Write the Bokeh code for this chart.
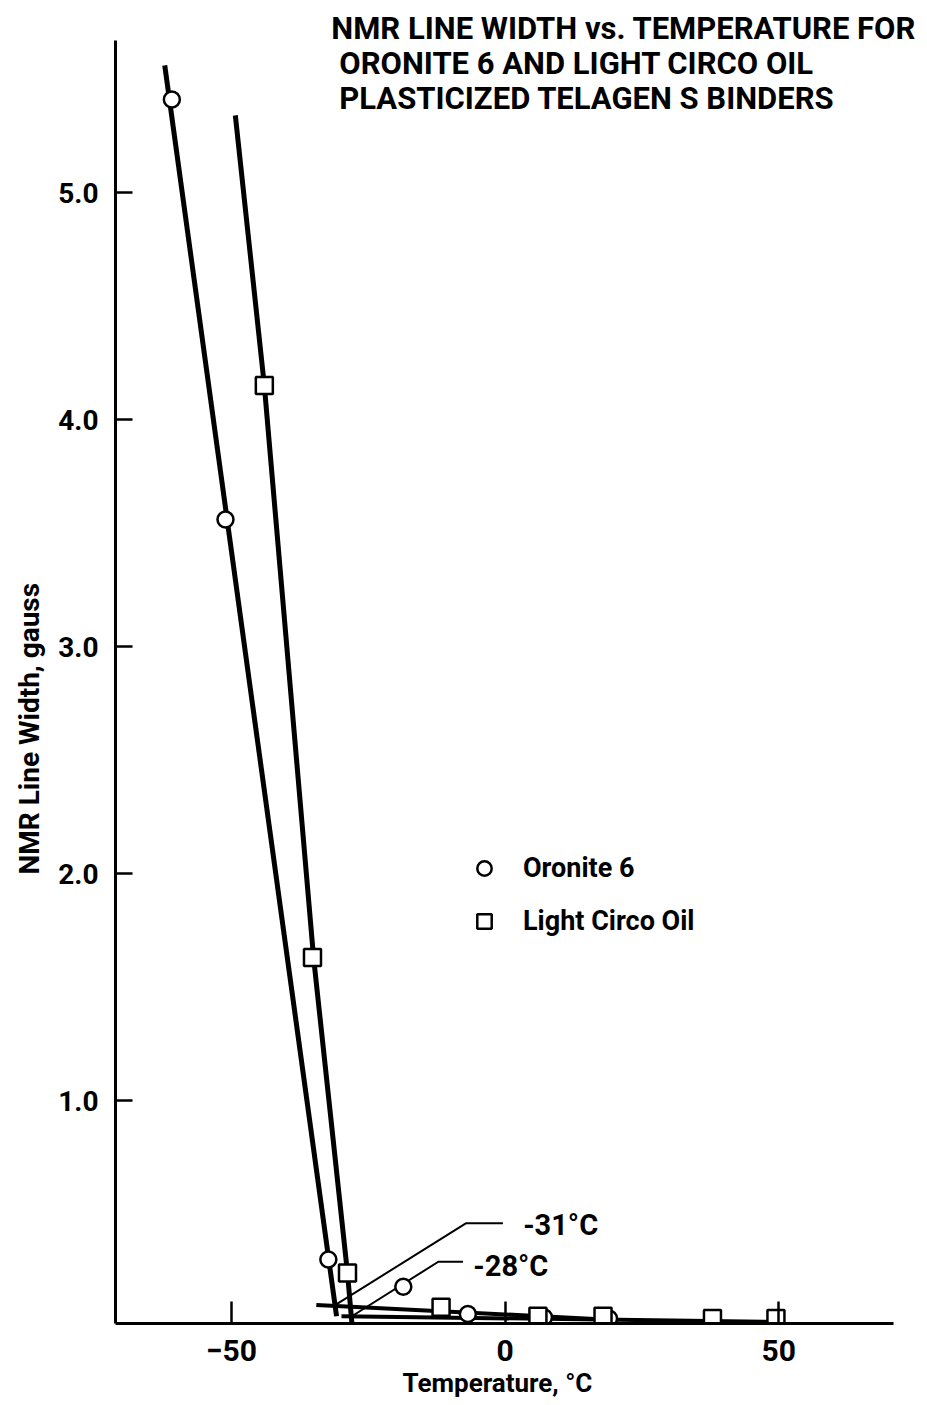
from bokeh.plotting import figure
from bokeh.models import Range1d, FixedTicker, Label, Legend, LegendItem, Title
from bokeh.embed import file_html
from bokeh.resources import INLINE

# ---- data ----
oronite_temp = [-60.9, -51.1, -32.3, -18.6, -6.8, 7.1, 19.0]
oronite_width = [5.41, 3.56, 0.30, 0.18, 0.06, 0.045, 0.04]
circo_temp = [-44.0, -35.2, -28.8, -11.7, 6.0, 17.9, 37.9, 49.5]
circo_width = [4.15, 1.63, 0.24, 0.09, 0.05, 0.05, 0.04, 0.04]

# drawn curves
oronite_steep_t = [-62.2, -30.8]
oronite_steep_w = [5.56, 0.05]
oronite_flat_t = [-34.5, 19.0]
oronite_flat_w = [0.10, 0.035]
circo_steep_t = [-49.3, -44.0, -35.0, -28.8, -28.0]
circo_steep_w = [5.34, 4.15, 1.63, 0.24, 0.02]
circo_flat_t = [-29.9, 51.0]
circo_flat_w = [0.05, 0.025]

# annotation leaders
lead31_t = [-0.4, -7.1, -31.0]
lead31_w = [0.46, 0.46, 0.10]
lead28_t = [-7.7, -12.2, -28.0]
lead28_w = [0.29, 0.29, 0.05]

x_ticks = [-50, 0, 50]
x_axis_extent = (-71.2, 71.0)
y_ticks = [1, 2, 3, 4, 5]
y_tick_labels = {1: "1.0", 2: "2.0", 3: "3.0", 4: "4.0", 5: "5.0"}
y_axis_extent = (0.018, 5.67)

title_lines = ["NMR LINE WIDTH vs. TEMPERATURE FOR",
               "ORONITE 6 AND LIGHT CIRCO OIL",
               "PLASTICIZED TELAGEN S BINDERS"]

FONT = "Roboto"

p = figure(width=927, height=1405, output_backend="svg", toolbar_location=None,
           x_range=Range1d(-71.2, 77.2), y_range=Range1d(0.018, 5.846),
           min_border_left=114, min_border_right=0, min_border_top=0,
           min_border_bottom=82)
p.outline_line_color = None
p.grid.visible = False
p.background_fill_color = "white"
p.border_fill_color = "white"

# axes
for ax in (p.xaxis[0], p.yaxis[0]):
    ax.axis_line_width = 3
    ax.axis_line_color = "black"
    ax.major_tick_line_width = 2.5
    ax.major_tick_line_color = "black"
    ax.minor_tick_line_color = None
    ax.major_tick_out = 0
    ax.major_label_text_font = FONT
    ax.major_label_text_font_style = "bold"
    ax.major_label_text_color = "black"

p.xaxis.ticker = FixedTicker(ticks=x_ticks)
p.xaxis.bounds = x_axis_extent
p.xaxis.major_tick_in = 22
p.xaxis.major_label_text_font_size = "30px"
p.xaxis.major_label_standoff = 16

p.yaxis.ticker = FixedTicker(ticks=y_ticks)
p.yaxis.bounds = y_axis_extent
p.yaxis.major_label_overrides = y_tick_labels
p.yaxis.major_tick_in = 17
p.yaxis.major_label_text_font_size = "28px"
p.yaxis.major_label_standoff = 17

# lines
p.line(oronite_steep_t, oronite_steep_w, line_width=5, color="black")
p.line(oronite_flat_t, oronite_flat_w, line_width=4, color="black")
p.line(circo_steep_t, circo_steep_w, line_width=5, color="black")
p.line(circo_flat_t, circo_flat_w, line_width=4, color="black")
p.line(lead31_t, lead31_w, line_width=2, color="black")
p.line(lead28_t, lead28_w, line_width=2, color="black")

# markers
r_or = p.scatter(oronite_temp, oronite_width, marker="circle", size=16,
                 fill_color="white", line_color="black", line_width=2.5)
r_ci = p.scatter(circo_temp, circo_width, marker="square", size=17,
                 fill_color="white", line_color="black", line_width=2.5)

legend = Legend(items=[LegendItem(label="Oronite 6", renderers=[r_or]),
                       LegendItem(label="Light Circo Oil", renderers=[r_ci])],
                location=(351, 384), padding=0, margin=0, spacing=17,
                glyph_width=36, glyph_height=36, label_height=36,
                label_standoff=21, border_line_color=None,
                background_fill_alpha=0,
                label_text_font=FONT, label_text_font_style="bold",
                label_text_color="black",
                label_text_font_size="27px", label_text_baseline="middle")
p.add_layout(legend)

# annotation texts
p.add_layout(Label(x=3.3, y=0.45, text="-31°C", text_font=FONT,
                   text_font_style="bold", text_font_size="29px",
                   text_color="black",
                   text_baseline="middle", text_align="left"))
p.add_layout(Label(x=-5.8, y=0.27, text="-28°C", text_font=FONT,
                   text_font_style="bold", text_font_size="29px",
                   text_color="black",
                   text_baseline="middle", text_align="left"))

# title lines (inside the frame, above the end of the y axis)
title_x = [-31.75, -30.3, -30.3]
title_y = [5.722, 5.568, 5.414]
for tx, ty, t in zip(title_x, title_y, title_lines):
    p.add_layout(Label(x=tx, y=ty, text=t, text_font=FONT,
                       text_font_style="bold", text_font_size="31px",
                       text_color="black",
                       text_baseline="middle", text_align="left"))

# axis titles
p.add_layout(Title(text="NMR Line Width, gauss", align="left", offset=449,
                   standoff=20, text_font=FONT, text_font_style="bold",
                   text_font_size="28px", text_color="black"), "left")
p.add_layout(Title(text="Temperature, °C", align="left", offset=287,
                   standoff=8, vertical_align="top", text_font=FONT,
                   text_font_style="bold", text_font_size="26px",
                   text_color="black"), "below")

open("out.html", "w").write(file_html(p, INLINE))
